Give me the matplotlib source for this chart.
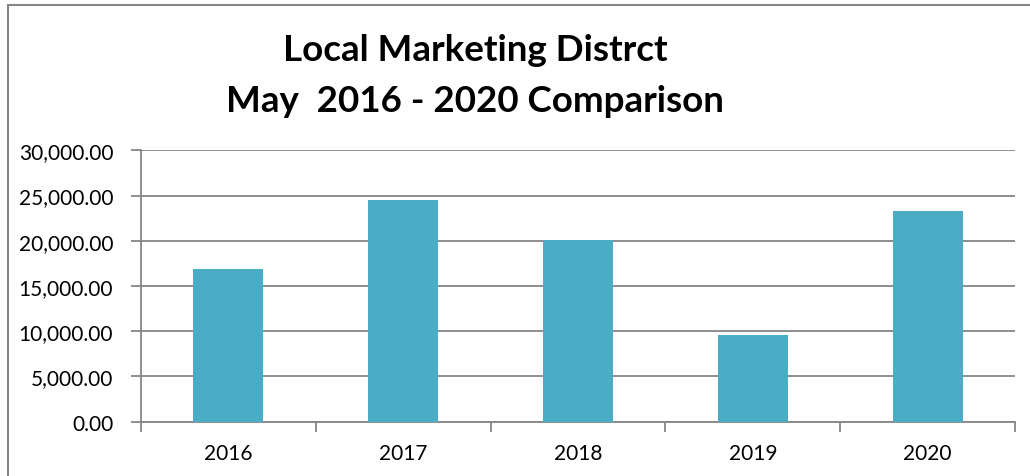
import matplotlib
matplotlib.use("Agg")
import matplotlib.pyplot as plt
from matplotlib.patches import Rectangle
from matplotlib.ticker import FuncFormatter, FixedLocator

years = ["2016", "2017", "2018", "2019", "2020"]
values = [16880, 24540, 20120, 9580, 23320]
yticks = [0, 5000, 10000, 15000, 20000, 25000, 30000]

plt.rcParams["font.family"] = ["Lato", "DejaVu Sans"]

fig = plt.figure(figsize=(10.3, 4.77), dpi=100)
ax = fig.add_axes([0.1369, 0.1138, 0.8485, 0.569])

grey = "#868686"
x = list(range(len(years)))
ax.bar(x, values, width=0.4, color="#4BACC6", zorder=3)

ax.set_xlim(-0.5, len(years) - 0.5)
ax.set_ylim(0, 30000)
ax.set_yticks(yticks)
ax.yaxis.set_major_formatter(FuncFormatter(lambda v, p: f"{v:,.2f}"))
ax.set_xticks(x)
ax.set_xticklabels(years)
ax.xaxis.set_minor_locator(FixedLocator([i - 0.5 for i in range(len(years) + 1)]))

ax.grid(axis="y", color=grey, linewidth=1.3, zorder=0)
for s in ["top", "right"]:
    ax.spines[s].set_visible(False)
for s in ["left", "bottom"]:
    ax.spines[s].set_color(grey)
    ax.spines[s].set_linewidth(1.3)

ax.tick_params(axis="y", length=7, width=1.3, color=grey, labelsize=15, pad=13)
ax.tick_params(axis="x", which="major", length=0, labelsize=15, pad=15)
ax.tick_params(axis="x", which="minor", length=7, width=1.3, color=grey)

fig.text(0.461, 0.895, "Local Marketing Distrct", ha="center", va="center",
         fontsize=26.5, fontweight="bold")
fig.text(0.461, 0.788, "May  2016 - 2020 Comparison", ha="center", va="center",
         fontsize=26.5, fontweight="bold")

fig.patches.append(Rectangle((8 / 1030, -0.1), 1.2, 1.1 - 6 / 477,
                             transform=fig.transFigure, fill=False,
                             edgecolor=grey, linewidth=1.5))

fig.savefig("out.png", dpi=100)
